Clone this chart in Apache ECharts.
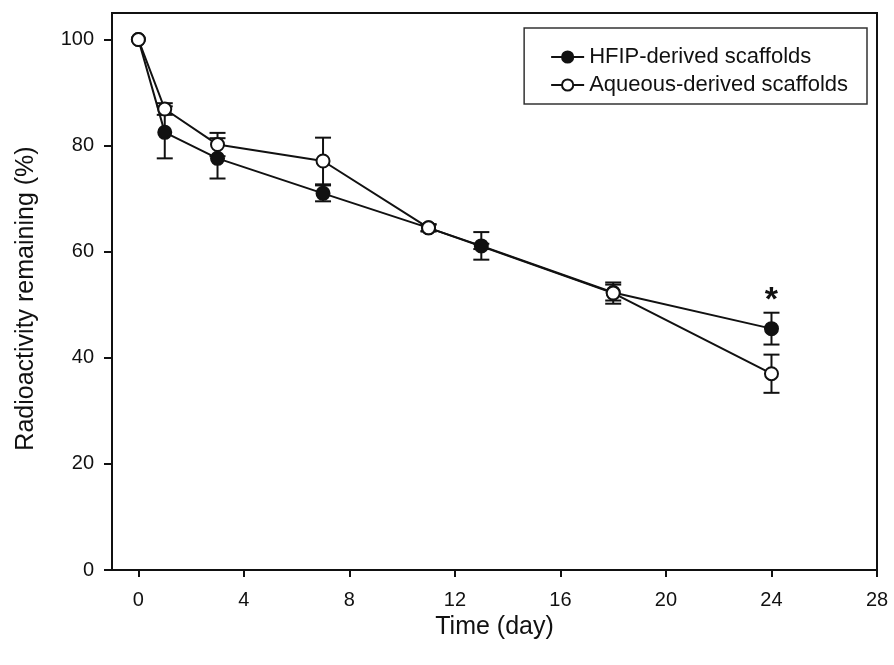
<!DOCTYPE html>
<html><head><meta charset="utf-8">
<script src="https://cdn.jsdelivr.net/npm/echarts@6/dist/echarts.min.js"></script>
<style>html,body{margin:0;padding:0;background:#fff}#c{width:894px;height:665px}</style>
</head><body><div id="c"></div>
<script>
var days = [0, 1, 3, 7, 11, 13, 18, 24];
var hfip = [100, 82.5, 77.6, 71.0, 64.5, 61.1, 52.3, 45.5];
var hfipErr = [0, 4.9, 3.8, 1.5, 0.6, 2.6, 1.5, 3.0];
var aqueous = [100, 86.9, 80.2, 77.1, 64.5, 61.0, 52.2, 37.0];
var aqueousErr = [0, 1.1, 2.2, 4.4, 0.7, 0.5, 2.0, 3.6];
var xTicks = [0, 4, 8, 12, 16, 20, 24, 28];
var yTicks = [0, 20, 40, 60, 80, 100];
var seriesNames = ['HFIP-derived scaffolds', 'Aqueous-derived scaffolds'];
var sigMark = '*';
var hiddenAqueousIdx = 5; // open marker at day 13 lies under the filled one

function pts(v){ return days.map(function(d,i){ return [d, v[i]]; }); }
function errData(v,e){ return days.map(function(d,i){ return [d, v[i]-e[i], v[i]+e[i]]; }); }
function errSeries(data, z){
  return {
    type:'custom', z:z, silent:true,
    renderItem:function(params, api){
      var x = api.value(0), lo = api.value(1), hi = api.value(2);
      if (hi - lo < 0.01) return null;
      var a = api.coord([x, lo]), b = api.coord([x, hi]);
      var w = 8;
      var st = {stroke:'#111', lineWidth:2};
      return {type:'group', children:[
        {type:'line', shape:{x1:a[0],y1:a[1],x2:b[0],y2:b[1]}, style:st},
        {type:'line', shape:{x1:a[0]-w,y1:a[1],x2:a[0]+w,y2:a[1]}, style:st},
        {type:'line', shape:{x1:b[0]-w,y1:b[1],x2:b[0]+w,y2:b[1]}, style:st}
      ]};
    },
    data:data
  };
}

var hfipData = pts(hfip);
hfipData[hfipData.length-1] = {value: hfipData[hfipData.length-1], label:{show:true, formatter:sigMark, position:'top', distance:4, fontSize:34, fontWeight:'bold', color:'#111', fontFamily:'Liberation Sans'}};
var aqData = pts(aqueous);
aqData[hiddenAqueousIdx] = {value: aqData[hiddenAqueousIdx], symbol:'none'};

var chart = echarts.init(document.getElementById('c'));
chart.setOption({
  backgroundColor:'#fff',
  animation:false,
  textStyle:{fontFamily:'Liberation Sans'},
  grid:{left:112, right:17, top:13, bottom:95, show:true, borderColor:'#111', borderWidth:2, containLabel:false},
  legend:{
    show:true, right:27, top:28, orient:'vertical',
    data:seriesNames,
    itemWidth:33, itemHeight:14, itemGap:6,
    padding:[18, 19, 8, 26],
    borderColor:'#333', borderWidth:1.5,
    textStyle:{fontSize:22, color:'#111', fontFamily:'Liberation Sans'}
  },
  xAxis:{
    type:'value', min:-1, max:28, interval:1,
    axisLine:{show:true, onZero:false, lineStyle:{color:'#111', width:2}},
    axisTick:{show:true, inside:false, length:7, lineStyle:{color:'#111', width:2},
      customValues: xTicks},
    axisLabel:{fontSize:20, color:'#111', margin:20, customValues: xTicks},
    splitLine:{show:false},
    name:'Time (day)', nameLocation:'middle', nameGap:39,
    nameTextStyle:{fontSize:25, color:'#111'}
  },
  yAxis:{
    type:'value', min:0, max:105, interval:20,
    axisLine:{show:true, onZero:false, lineStyle:{color:'#111', width:2}},
    axisTick:{show:true, inside:false, length:8, lineStyle:{color:'#111', width:2}, customValues:yTicks},
    axisLabel:{fontSize:20, color:'#111', margin:18, customValues:yTicks},
    splitLine:{show:false},
    name:'Radioactivity remaining (%)', nameLocation:'middle', nameGap:73,
    nameTextStyle:{fontSize:25, color:'#111', padding:[0, 14, 0, 0]}
  },
  series:[
    errSeries(errData(aqueous, aqueousErr), 1),
    errSeries(errData(hfip, hfipErr), 1),
    {name:seriesNames[0], type:'line', z:3, data:hfipData, symbol:'circle', symbolSize:13,
      lineStyle:{color:'#111', width:2}, itemStyle:{color:'#111', borderColor:'#111', borderWidth:2}},
    {name:seriesNames[1], type:'line', z:4, data:aqData, symbol:'circle', symbolSize:13,
      lineStyle:{color:'#111', width:2}, itemStyle:{color:'#fff', borderColor:'#111', borderWidth:2}}
  ]
});
</script></body></html>
